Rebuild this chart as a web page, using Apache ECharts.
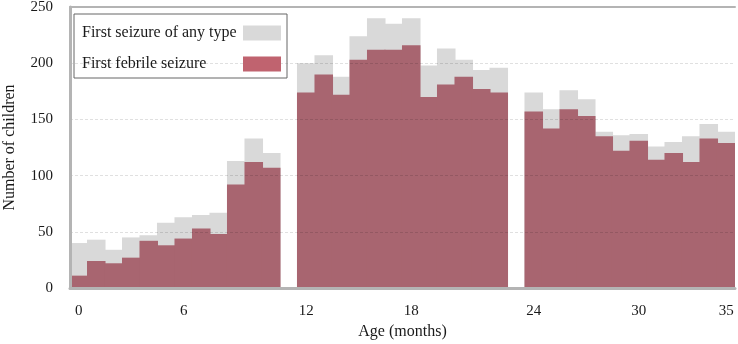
<!DOCTYPE html>
<html>
<head>
<meta charset="utf-8">
<script src="https://cdn.jsdelivr.net/npm/echarts@6/dist/echarts.min.js"></script>
<style>
  html, body { margin: 0; padding: 0; background: #fff; }
  #chart-container { width: 738px; height: 344px; }
</style>
</head>
<body>
<div id="chart-container"></div>
<script>
// age in months, one bar per month
const months = [
  "0", "1", "2", "3", "4", "5", "6", "7", "8", "9", "10", "11",
  "12", "13", "14", "15", "16", "17", "18", "19", "20", "21", "22", "23",
  "24", "25", "26", "27", "28", "29", "30", "31", "32", "33", "34", "35"
];
const anyType = [
  40, 43, 34, 45, 47, 58, 63, 65, 67, 113, 133, 120,
  200, 207, 188, 224, 240, 235, 240, 198, 213, 203, 194, 196,
  174, 159, 176, 168, 139, 136, 137, 126, 130, 135, 146, 139
];
const febrile = [
  11, 24, 22, 27, 42, 38, 44, 53, 48, 92, 112, 107,
  174, 190, 172, 203, 212, 212, 216, 170, 181, 188, 177, 174,
  157, 142, 159, 153, 135, 122, 131, 114, 120, 112, 133, 129
];
const tickLabels = ["0", "6", "12", "18", "24", "30", "35"];
const yTicks = [0, 50, 100, 150, 200, 250];
const seriesNames = ["First seizure of any type", "First febrile seizure"];

// an empty slot after months 11 and 23 (the gaps in the picture)
function withGaps(arr, filler) {
  const out = [];
  arr.forEach((v, i) => {
    out.push(v);
    if (i === 11 || i === 23) out.push(filler);
  });
  return out;
}

const cats = withGaps(months, "");
const font = "'Liberation Serif', 'Times New Roman', serif";
const textColor = "#1a1a1a";

const chart = echarts.init(document.getElementById("chart-container"));

const option = {
  animation: false,
  textStyle: { fontFamily: font },
  grid: { left: 70, right: 3, top: 7, bottom: 56, outerBoundsMode: "none", containLabel: false },
  legend: {
    orient: "vertical",
    left: 74,
    top: 14,
    align: "right",
    icon: "rect",
    itemWidth: 38,
    itemHeight: 15,
    itemGap: 15,
    padding: [11, 6, 6, 8],
    borderColor: "#666",
    borderWidth: 1,
    borderRadius: 0,
    selectedMode: false,
    formatter: (name) => "{t|" + name + "}",
    textStyle: {
      fontFamily: font,
      fontSize: 16,
      color: textColor,
      rich: { t: { width: 156, align: "left", fontFamily: font, fontSize: 16, color: textColor } }
    },
    data: [
      { name: seriesNames[0], itemStyle: { color: "#d9d9d9" } },
      { name: seriesNames[1], itemStyle: { color: "#c0636f" } }
    ]
  },
  xAxis: [
    {
      type: "category",
      data: cats,
      z: 3,
      name: "Age (months)",
      nameLocation: "middle",
      nameGap: 31,
      nameTextStyle: { fontFamily: font, fontSize: 16, color: textColor },
      axisLine: { lineStyle: { color: "#b4b4b4", width: 3 } },
      axisTick: { show: false },
      axisLabel: {
        interval: (idx, val) => tickLabels.includes(val),
        margin: 16,
        fontFamily: font,
        fontSize: 15,
        color: textColor
      }
    },
    {
      type: "category",
      position: "top",
      data: cats,
      z: 3,
      axisLine: { lineStyle: { color: "#b4b4b4", width: 2 } },
      axisTick: { show: false },
      axisLabel: { show: false }
    }
  ],
  yAxis: {
    type: "value",
    min: yTicks[0],
    max: yTicks[yTicks.length - 1],
    interval: 50,
    z: 3,
    name: "Number of children",
    nameLocation: "middle",
    nameGap: 52,
    nameTextStyle: { fontFamily: font, fontSize: 16, color: textColor },
    axisLine: { show: true, lineStyle: { color: "#b4b4b4", width: 3 } },
    axisTick: { show: false },
    axisLabel: { margin: 17, fontFamily: font, fontSize: 15, color: textColor },
    splitLine: { lineStyle: { color: "rgba(0,0,0,0.12)", width: 1, type: [3, 2] } }
  },
  series: [
    {
      name: seriesNames[0],
      type: "bar",
      data: withGaps(anyType, "-"),
      barGap: "-100%",
      barWidth: "106%",
      itemStyle: { color: "#d9d9d9" }
    },
    {
      name: seriesNames[1],
      type: "bar",
      data: withGaps(febrile, "-"),
      barGap: "-100%",
      barWidth: "106%",
      itemStyle: { color: "#a86570" }
    }
  ]
};

chart.setOption(option);
</script>
</body>
</html>
